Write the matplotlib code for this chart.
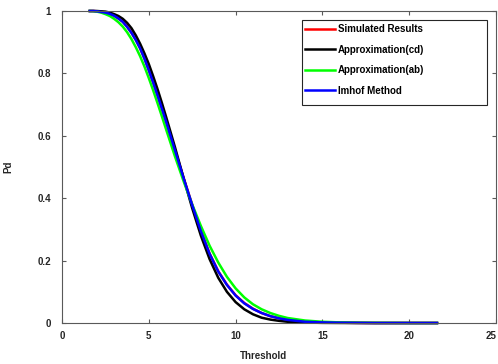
import matplotlib
matplotlib.use("Agg")
import matplotlib.pyplot as plt
from matplotlib.patches import Rectangle

# ---- data ----
threshold = [1.6, 1.8, 2.0, 2.25, 2.5, 2.75, 3.0, 3.25, 3.5, 3.75, 4.0, 4.25, 4.5, 4.75,
             5.0, 5.25, 5.5, 5.75, 6.0, 6.5, 7.0, 7.5, 8.0, 8.5, 9.0, 9.5, 10.0, 10.5,
             11.0, 11.5, 12.0, 12.5, 13.0, 14.0, 15.0, 16.0, 17.0, 18.0, 20.0, 21.6]
pd_imhof = [1.0, 1.0, 0.999, 0.997, 0.995, 0.991, 0.985, 0.976, 0.965, 0.949, 0.93, 0.907,
            0.88, 0.847, 0.81, 0.771, 0.73, 0.688, 0.645, 0.555, 0.465, 0.378, 0.294,
            0.222, 0.165, 0.122, 0.088, 0.063, 0.045, 0.032, 0.022, 0.015, 0.01, 0.004,
            0.002, 0.001, 0.0005, 0.0, 0.0, 0.0]
pd_sim = [1.0, 1.0, 0.999, 0.997, 0.995, 0.991, 0.985, 0.976, 0.966, 0.95, 0.931, 0.908,
          0.881, 0.848, 0.811, 0.772, 0.731, 0.689, 0.646, 0.556, 0.466, 0.379, 0.295,
          0.223, 0.166, 0.123, 0.089, 0.064, 0.046, 0.032, 0.022, 0.015, 0.01, 0.004,
          0.002, 0.001, 0.0005, 0.0, 0.0, 0.0]
pd_cd = [1.0, 1.0, 1.0, 0.999, 0.998, 0.995, 0.99, 0.984, 0.975, 0.962, 0.945, 0.922,
         0.895, 0.864, 0.83, 0.791, 0.75, 0.706, 0.66, 0.565, 0.465, 0.368, 0.28, 0.205,
         0.145, 0.10, 0.067, 0.044, 0.028, 0.017, 0.011, 0.007, 0.004, 0.0015, 0.0005,
         0.0002, 0.0, 0.0, 0.0, 0.0]
pd_ab = [1.0, 0.9995, 0.998, 0.995, 0.99, 0.984, 0.975, 0.964, 0.95, 0.932, 0.91, 0.884,
         0.855, 0.822, 0.785, 0.746, 0.705, 0.663, 0.62, 0.535, 0.455, 0.38, 0.311, 0.248,
         0.194, 0.148, 0.111, 0.082, 0.06, 0.044, 0.032, 0.023, 0.016, 0.008, 0.004,
         0.002, 0.001, 0.0005, 0.0, 0.0]

labels = ["Simulated Results", "Approximation(cd)", "Approximation(ab)", "Imhof Method"]
xticks = [0, 5, 10, 15, 20, 25]
yticks = [0, 0.2, 0.4, 0.6, 0.8, 1]
ytick_labels = ["0", "0.2", "0.4", "0.6", "0.8", "1"]

plt.rcParams['font.family'] = ['Liberation Sans', 'DejaVu Sans']
plt.rcParams['font.weight'] = 'bold'
fs = 7
lfs = 7

fig = plt.figure(figsize=(4.98, 3.64), dpi=100)
ax = fig.add_axes([0.1245, 0.1126, 0.8715, 0.8572])

lw = 1.8
l1, = ax.plot(threshold, pd_sim, color='#ff0000', lw=lw, label=labels[0])
l2, = ax.plot(threshold, pd_cd, color='#000000', lw=lw, label=labels[1])
l3, = ax.plot(threshold, pd_ab, color='#00ff00', lw=lw, label=labels[2])
l4, = ax.plot(threshold, pd_imhof, color='#0000ff', lw=lw, label=labels[3])
for l in (l1, l2, l3, l4):
    l.set_clip_on(False)
    l.set_solid_joinstyle('round')

ax.set_xlim(0, 25)
ax.set_ylim(0, 1)
ax.set_xticks(xticks)
ax.set_xticklabels([str(t) for t in xticks])
ax.set_yticks(yticks)
ax.set_yticklabels(ytick_labels)
ax.tick_params(direction='in', length=3, width=0.8, colors='0.35', labelcolor='#262626',
               labelsize=fs, top=True, right=True)
ax.tick_params(axis='x', pad=6)
ax.tick_params(axis='y', pad=8)
ax.get_xticklabels()[-1].set_horizontalalignment('right')
for s in ax.spines.values():
    s.set_color('0.35')
    s.set_linewidth(0.8)

ax.set_xlabel("Threshold", fontsize=fs, fontweight='bold', color='#262626', labelpad=6)
ax.xaxis.set_label_coords(0.463, -0.09)
ax.set_ylabel("Pd", fontsize=fs, fontweight='bold', color='#262626', labelpad=17)

# legend
leg = ax.legend(handles=[l1, l2, l3, l4], loc='upper left',
                bbox_to_anchor=(0.560, 0.957), frameon=False, fontsize=lfs,
                handlelength=3.1, handletextpad=0.3, labelspacing=1.07,
                borderpad=0.0, borderaxespad=0.0)
for t in leg.get_texts():
    t.set_fontweight('bold')
    t.set_color('#000000')
ax.add_patch(Rectangle((0.553, 0.699), 0.426, 0.272, transform=ax.transAxes,
                       facecolor='white', edgecolor='#262626', lw=0.8, zorder=4))
leg.set_zorder(5)

fig.savefig("out.png", dpi=100)
